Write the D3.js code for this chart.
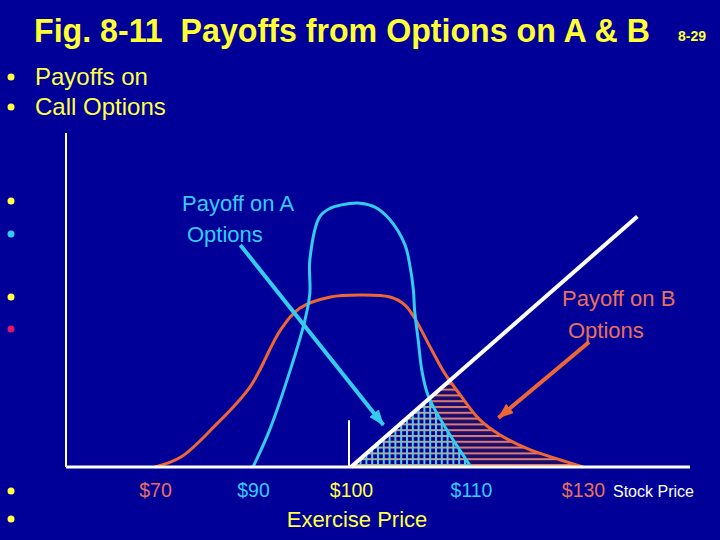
<!DOCTYPE html>
<html>
<head>
<meta charset="utf-8">
<script src="https://cdn.jsdelivr.net/npm/d3@7"></script>
<style>
	body{margin:0;background:#000099;}
	svg{display:block;font-family:"Liberation Sans",Arial,sans-serif;}
</style>
</head>
<body>
<svg id="chart" width="720" height="540"></svg>
<script>
var tickPrices = [70, 90, 100, 110, 130];
var tickLabels = ["$70", "$90", "$100", "$110", "$130"];
var tickColors = ["#e8705a", "#33ccff", "#ffff44", "#33ccff", "#e8705a"];
var exercisePrice = 100;

// stock price vs relative height (0-100)
var payoffB = [[70,0],[75.3,3],[82,12],[89.4,24],[92.8,41],[94.8,47.6],[97.9,50.9],[100.75,51.5],
	[103.25,50.9],[104.5,48.5],[105.3,44.6],[106.6,35.9],[107.8,28.1],[109.1,21.6],[111.6,14.1],
	[115.2,9.6],[120.6,5.1],[126,2.1],[130,0]];
var payoffA = [[90,0],[91.7,11.1],[93.8,29],[95.3,44],[95.8,52],[95.8,62],[96.8,74.9],[97.9,77.5],
	[98.9,78.4],[100.75,79],[102,77.8],[103.25,74],[104.5,66.5],[104.9,60.5],[105.2,53],[105.3,47],
	[105.6,38],[105.9,29],[106.4,21.6],[107,17.1],[108.25,9.6],[109.5,2.7],[110,0]];
var callPayoff = [[100,0],[139.7,75]];

var bulletText = ["Payoffs on", "Call Options"];
var bulletColors = ["#ffff44","#ffff44","#ffff44","#33ccff","#ffff44","#e0156e","#ffff44","#ffff44"];
var bulletRows = [77, 107, 201, 234, 297, 329, 491, 519];

var margin = {left: 66, right: 690, top: 133, bottom: 467};
var svg = d3.select("#chart");

var x = d3.scaleLinear().domain(tickPrices).range([155, 253, 351, 471, 583]);
var y = d3.scaleLinear().domain([0, 100]).range([margin.bottom, margin.top]);

svg.append("rect").attr("width", 720).attr("height", 540).attr("fill", "#000099");

var defs = svg.append("defs");
var hatchB = defs.append("pattern").attr("id", "hatchB")
	.attr("patternUnits", "userSpaceOnUse").attr("width", 6).attr("height", 5.8);
hatchB.append("rect").attr("width", 6).attr("height", 5.8).attr("fill", "#1c0c6a");
hatchB.append("rect").attr("width", 6).attr("height", 2).attr("fill", "#d97b78");

var hatchA = defs.append("pattern").attr("id", "hatchA")
	.attr("patternUnits", "userSpaceOnUse").attr("width", 5.8).attr("height", 5.8);
hatchA.append("rect").attr("width", 5.8).attr("height", 5.8).attr("fill", "#000099");
hatchA.append("rect").attr("width", 5.8).attr("height", 2).attr("fill", "#c9a27c");
hatchA.append("rect").attr("width", 2).attr("height", 5.8).attr("fill", "#5cc8e6");

var line = d3.line().x(function(d){ return x(d[0]); }).y(function(d){ return y(d[1]); });
var smooth = d3.line().x(function(d){ return x(d[0]); }).y(function(d){ return y(d[1]); })
	.curve(d3.curveCatmullRom.alpha(0.5));
var area = d3.area().x(function(d){ return x(d[0]); }).y0(y(0)).y1(function(d){ return y(d[1]); })
	.curve(d3.curveCatmullRom.alpha(0.5));

var last = callPayoff[callPayoff.length - 1];
defs.append("clipPath").attr("id", "inTheMoney")
	.append("path").attr("d", line(callPayoff.concat([[last[0], 0]])) + "Z");

svg.append("path").attr("d", area(payoffB)).attr("fill", "url(#hatchB)").attr("clip-path", "url(#inTheMoney)");
svg.append("path").attr("d", area(payoffA)).attr("fill", "url(#hatchA)").attr("clip-path", "url(#inTheMoney)");

svg.append("path").attr("d", smooth(payoffB)).attr("fill", "none")
	.attr("stroke", "#ee6633").attr("stroke-width", 3);
svg.append("path").attr("d", smooth(payoffA)).attr("fill", "none")
	.attr("stroke", "#33ccee").attr("stroke-width", 3);
svg.append("path").attr("d", line(callPayoff)).attr("fill", "none")
	.attr("stroke", "#ffffff").attr("stroke-width", 4);

// axes
svg.append("line").attr("x1", margin.left).attr("x2", margin.left)
	.attr("y1", margin.top).attr("y2", margin.bottom)
	.attr("stroke", "#ffffcc").attr("stroke-width", 2);
svg.append("line").attr("x1", margin.left).attr("x2", margin.right)
	.attr("y1", margin.bottom).attr("y2", margin.bottom)
	.attr("stroke", "#fffff0").attr("stroke-width", 3);
svg.append("line").attr("x1", x(exercisePrice) - 2).attr("x2", x(exercisePrice) - 2)
	.attr("y1", y(14)).attr("y2", y(0))
	.attr("stroke", "#ffffcc").attr("stroke-width", 2);

var xAxis = svg.append("g").attr("transform", "translate(0," + margin.bottom + ")")
	.call(d3.axisBottom(x).tickValues(tickPrices).tickSize(0).tickPadding(16)
		.tickFormat(function(d, i){ return tickLabels[i]; }));
xAxis.select(".domain").remove();
xAxis.selectAll(".tick text")
	.attr("font-family", "'Liberation Sans',Arial,sans-serif")
	.attr("font-size", 19.5)
	.attr("fill", function(d, i){ return tickColors[i]; });

svg.append("text").attr("x", 613).attr("y", 497).attr("font-size", 16)
	.attr("fill", "#ffffff").text("Stock Price");
svg.append("text").attr("x", 357).attr("y", 527).attr("font-size", 22)
	.attr("text-anchor", "middle").attr("fill", "#ffff44").text("Exercise Price");

// arrows
function arrowHead(id, color) {
	defs.append("marker").attr("id", id)
		.attr("markerUnits", "userSpaceOnUse").attr("viewBox", "0 -7 16 14")
		.attr("markerWidth", 16).attr("markerHeight", 14)
		.attr("refX", 15).attr("refY", 0).attr("orient", "auto")
		.append("path").attr("d", "M0,-6L16,0L0,6Z").attr("fill", color);
}
arrowHead("headA", "#33ccee");
arrowHead("headB", "#ee6633");

svg.append("path").attr("d", line([[87.4, 66.5], [102.7, 12.6]]))
	.attr("stroke", "#33ccee").attr("stroke-width", 4).attr("marker-end", "url(#headA)");
svg.append("path").attr("d", line([[131.1, 37.4], [114.9, 14.7]]))
	.attr("stroke", "#ee6633").attr("stroke-width", 4).attr("marker-end", "url(#headB)");

svg.append("text").attr("x", 182).attr("y", 211).attr("font-size", 22).attr("fill", "#33ccff").text("Payoff on A");
svg.append("text").attr("x", 187).attr("y", 242).attr("font-size", 22).attr("fill", "#33ccff").text("Options");
svg.append("text").attr("x", 562).attr("y", 306).attr("font-size", 22).attr("fill", "#e8705a").text("Payoff on B");
svg.append("text").attr("x", 568).attr("y", 338).attr("font-size", 22).attr("fill", "#e8705a").text("Options");

// title and bullets
svg.append("text").attr("x", 34).attr("y", 42).attr("font-size", 33).attr("font-weight", "bold")
	.attr("fill", "#ffff33").attr("textLength", 616).attr("lengthAdjust", "spacingAndGlyphs")
	.attr("xml:space", "preserve").text("Fig. 8-11  Payoffs from Options on A & B");
svg.append("text").attr("x", 678).attr("y", 41).attr("font-size", 14).attr("font-weight", "bold")
	.attr("fill", "#ffff33").text("8-29");

svg.selectAll(".bullet").data(bulletRows).enter().append("circle")
	.attr("class", "bullet").attr("cx", 11).attr("cy", function(d){ return d; }).attr("r", 3.5)
	.attr("fill", function(d, i){ return bulletColors[i]; });
svg.selectAll(".bulletText").data(bulletText).enter().append("text")
	.attr("class", "bulletText").attr("x", 35).attr("y", function(d, i){ return 85 + i * 30; })
	.attr("font-size", 24).attr("fill", "#ffff44").text(function(d){ return d; });
</script>
</body>
</html>
